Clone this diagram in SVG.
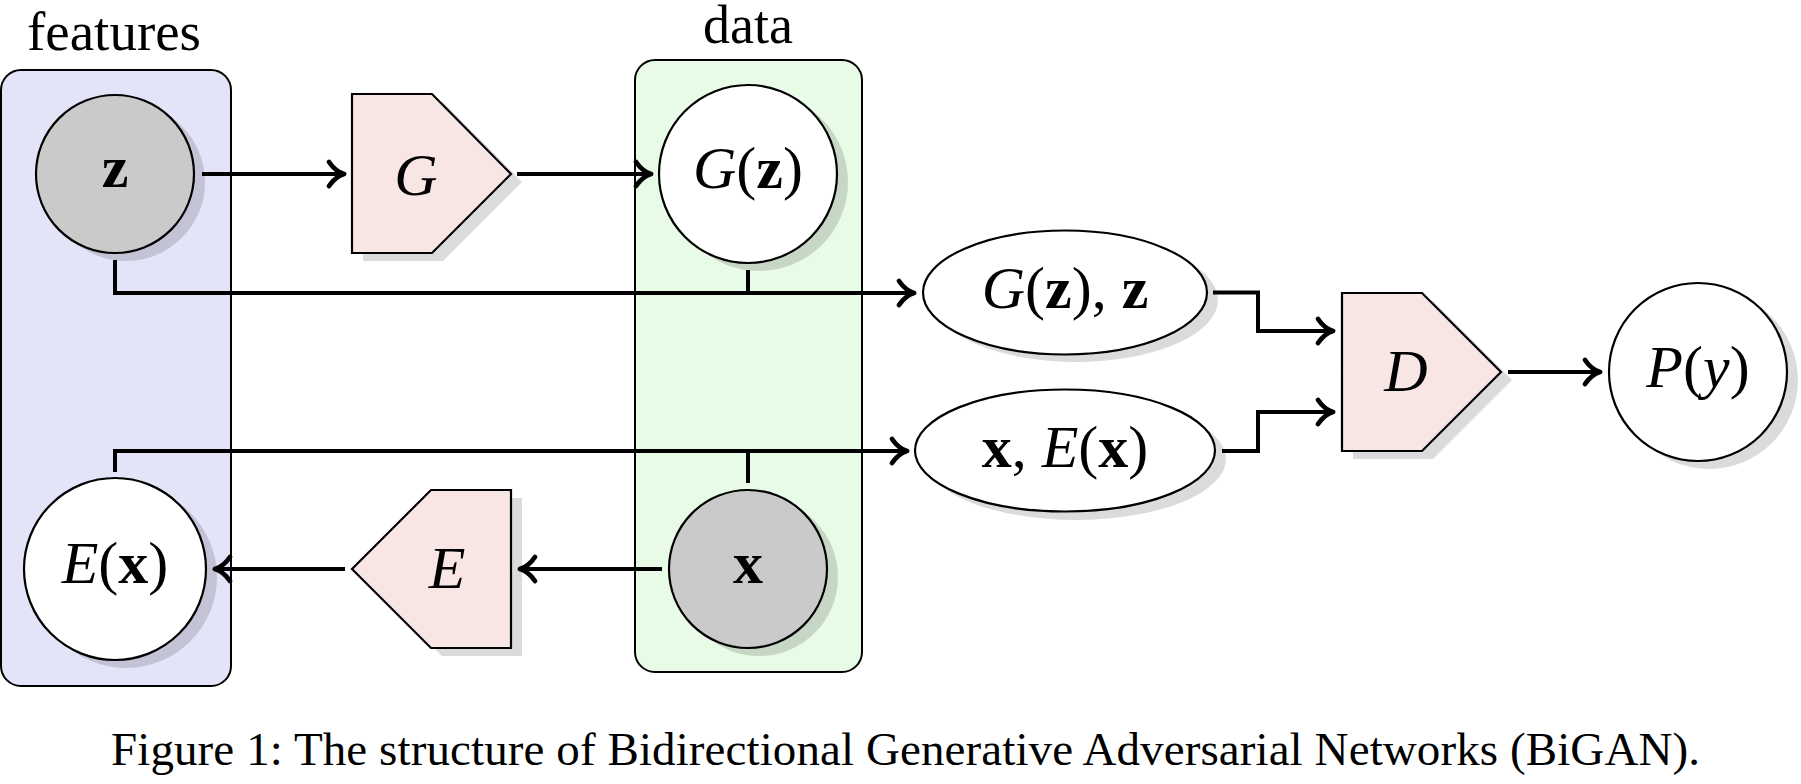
<svg xmlns="http://www.w3.org/2000/svg" width="1801" height="784" viewBox="0 0 1801 784">
<style>
.box{stroke:#000;stroke-width:2}
.nd{stroke:#000;stroke-width:2.2}
.sh{fill:#000;fill-opacity:0.14;stroke:none}
.pent{fill:#f8e6e5}
.obs{fill:#cacaca}
.wht{fill:#ffffff}
.conn{fill:none;stroke:#000;stroke-width:4;stroke-linejoin:miter}
.t{font-family:"Liberation Serif","DejaVu Serif",serif;fill:#000}
.m{font-size:60px;text-anchor:middle}
.i{font-style:italic}
.b{font-weight:bold}
</style>
<defs>
<marker id="arr" markerUnits="userSpaceOnUse" markerWidth="40" markerHeight="40" viewBox="-20 -20 40 40" refX="0" refY="0" orient="auto" overflow="visible">
<path d="M-15,-12 C-9.5,-4 -4,-1.2 0,0 C-4,1.2 -9.5,4 -15,12" fill="none" stroke="#000" stroke-width="4.8" stroke-linecap="round" stroke-linejoin="round"/>
</marker>
</defs>
<rect width="1801" height="784" fill="#fff"/>

<g id="features">
<rect class="box" x="1" y="70" width="230" height="616" rx="20" fill="#e4e4f9"/>
<text class="t" x="114" y="50" font-size="55" text-anchor="middle">features</text>
</g>
<g id="data">
<rect class="box" x="635" y="60" width="227" height="612" rx="20" fill="#e8fbe6"/>
<text class="t" x="748" y="43" font-size="54" text-anchor="middle">data</text>
</g>

<g id="node-z">
<circle class="sh" cx="126" cy="182" r="79"/>
<circle class="nd obs" cx="115" cy="174" r="79"/>
<text class="t m b" x="115" y="187">z</text>
</g>
<g id="node-G">
<polygon class="sh" points="363,102 443,102 522,182 443,261 363,261"/>
<polygon class="nd pent" points="352,94 432,94 511,174 432,253 352,253"/>
<text class="t m i" x="416" y="195">G</text>
</g>
<g id="node-Gz">
<circle class="sh" cx="759" cy="182" r="89"/>
<circle class="nd wht" cx="748" cy="174" r="89"/>
<text class="t m" x="748" y="188"><tspan class="i">G</tspan>(<tspan class="b">z</tspan>)</text>
</g>
<g id="node-Gzz">
<ellipse class="sh" cx="1076" cy="300" rx="142" ry="62"/>
<ellipse class="nd wht" cx="1065" cy="292.5" rx="142" ry="62"/>
<text class="t m" x="1065" y="308"><tspan class="i">G</tspan>(<tspan class="b">z</tspan>), <tspan class="b">z</tspan></text>
</g>
<g id="node-xEx">
<ellipse class="sh" cx="1076" cy="459" rx="150" ry="61"/>
<ellipse class="nd wht" cx="1065" cy="450.5" rx="150" ry="61"/>
<text class="t m" x="1065" y="467"><tspan class="b">x</tspan>, <tspan class="i">E</tspan>(<tspan class="b">x</tspan>)</text>
</g>
<g id="node-D">
<polygon class="sh" points="1353,301 1433,301 1512,380 1433,459 1353,459"/>
<polygon class="nd pent" points="1342,293 1422,293 1501,372 1422,451 1342,451"/>
<text class="t m i" x="1406" y="391">D</text>
</g>
<g id="node-Py">
<circle class="sh" cx="1709" cy="380" r="89"/>
<circle class="nd wht" cx="1698" cy="372" r="89"/>
<text class="t m" x="1698" y="387"><tspan class="i">P</tspan>(<tspan class="i">y</tspan>)</text>
</g>
<g id="node-x">
<circle class="sh" cx="759" cy="577" r="79"/>
<circle class="nd obs" cx="748" cy="569" r="79"/>
<text class="t m b" x="748" y="583">x</text>
</g>
<g id="node-E">
<polygon class="sh" points="363,577 442,498 522,498 522,656 442,656"/>
<polygon class="nd pent" points="352,569 431,490 511,490 511,648 431,648"/>
<text class="t m i" x="447" y="588">E</text>
</g>
<g id="node-Ex">
<circle class="sh" cx="126" cy="577" r="91"/>
<circle class="nd wht" cx="115" cy="569" r="91"/>
<text class="t m" x="115" y="583"><tspan class="i">E</tspan>(<tspan class="b">x</tspan>)</text>
</g>

<g id="connectors">
<path class="conn" d="M202,174 H344" marker-end="url(#arr)"/>
<path class="conn" d="M517,174 H651" marker-end="url(#arr)"/>
<path class="conn" d="M115,260 V293 H914" marker-end="url(#arr)"/>
<path class="conn" d="M748,270 V293"/>
<path class="conn" d="M1213,292.5 H1258 V331 H1333" marker-end="url(#arr)"/>
<path class="conn" d="M1222,451 H1258 V412 H1333" marker-end="url(#arr)"/>
<path class="conn" d="M1508,372 H1600" marker-end="url(#arr)"/>
<path class="conn" d="M662,569 H520" marker-end="url(#arr)"/>
<path class="conn" d="M345,569 H215" marker-end="url(#arr)"/>
<path class="conn" d="M115,472 V451 H907" marker-end="url(#arr)"/>
<path class="conn" d="M748,483 V451"/>
</g>

<text class="t" x="111" y="765" font-size="47" textLength="1589" lengthAdjust="spacing">Figure 1: The structure of Bidirectional Generative Adversarial Networks (BiGAN).</text>
</svg>
